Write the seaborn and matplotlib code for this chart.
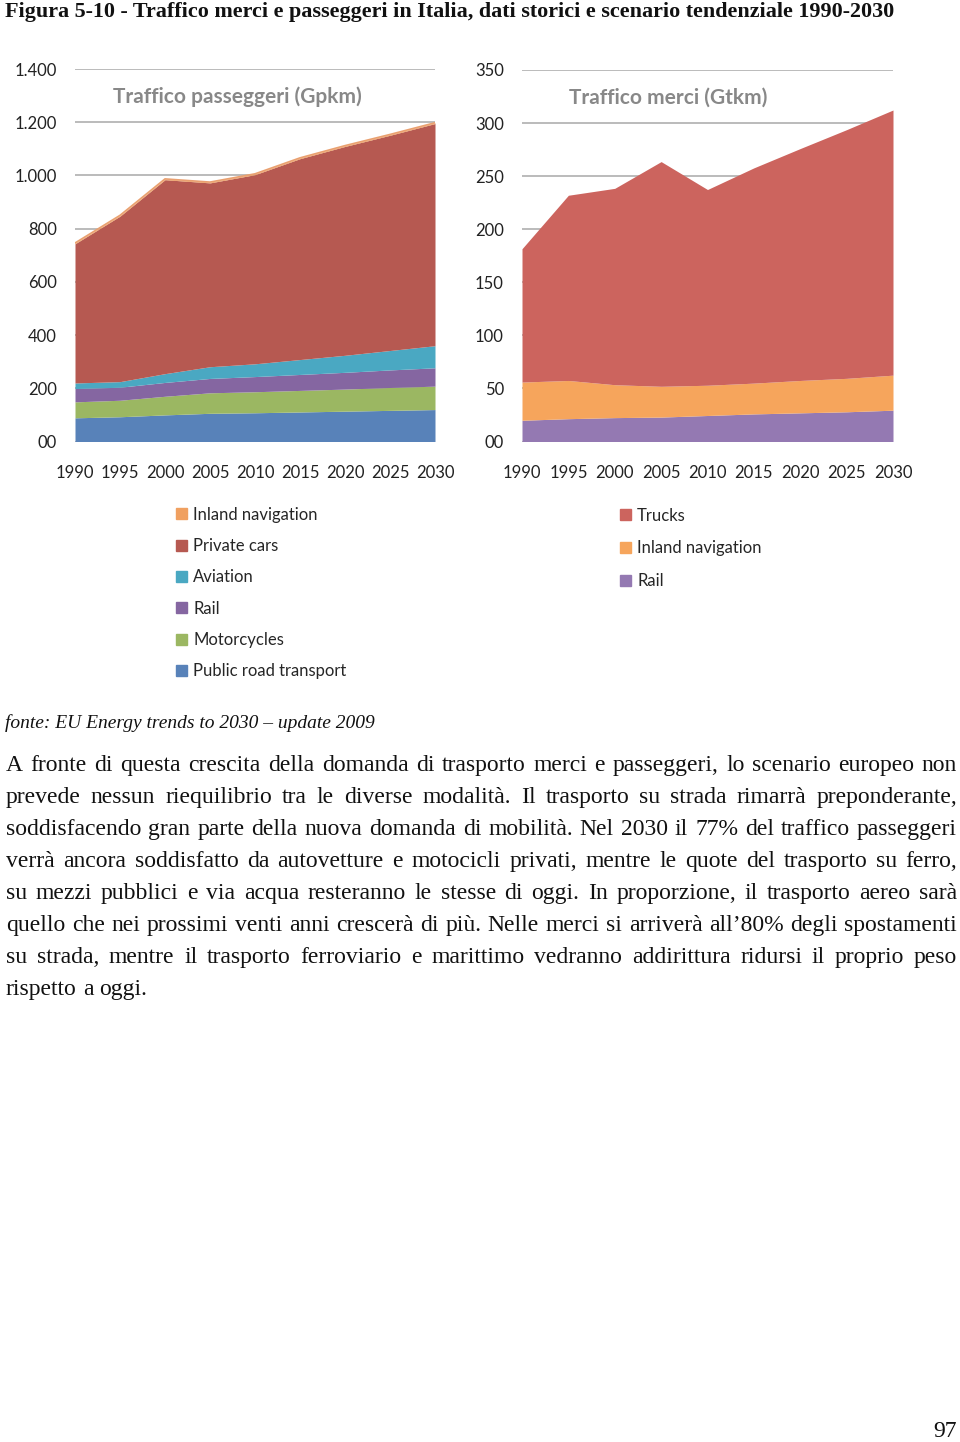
import numpy as np
import pandas as pd
import seaborn as sns
import matplotlib.pyplot as plt
from matplotlib.patches import Patch

# ---- data ----
years = [1990, 1995, 2000, 2005, 2010, 2015, 2020, 2025, 2030]

# passenger traffic (Gpkm), stacking order bottom -> top
pax_public_road = [89, 93, 100, 106, 108, 111, 114, 117, 120]
pax_motorcycles = [60, 62, 70, 77, 79, 81, 83, 86, 88]
pax_rail = [50, 49, 52, 54, 57, 60, 63, 66, 69]
pax_aviation = [21, 21, 33, 44, 48, 56, 64, 73, 83]
pax_private_cars = [523, 622, 729, 691, 711, 755, 785, 809, 835]
pax_inland_nav = [3, 3, 3, 3, 3, 3, 3, 3, 3]

# freight traffic (Gtkm), bottom -> top
frt_rail = [20, 21.5, 22.5, 23, 24.5, 26, 27, 28, 29.5]
frt_inland_nav = [36, 36, 31, 29, 28.5, 29, 30.5, 31.5, 33]
frt_trucks = [125.6, 174.5, 185, 211.7, 184.4, 202.8, 218.5, 234.3, 249.8]

pax_labels = ["Public road transport", "Motorcycles", "Rail", "Aviation",
              "Private cars", "Inland navigation"]
frt_labels = ["Rail", "Inland navigation", "Trucks"]

pax_yticks = [0, 200, 400, 600, 800, 1000, 1200, 1400]
pax_yticklabels = ["00", "200", "400", "600", "800", "1.000", "1.200", "1.400"]
frt_yticks = [0, 50, 100, 150, 200, 250, 300, 350]
frt_yticklabels = ["00", "50", "100", "150", "200", "250", "300", "350"]

title = "Figura 5-10 - Traffico merci e passeggeri in Italia, dati storici e scenario tendenziale 1990-2030"
source = "fonte: EU Energy trends to 2030 \u2013 update 2009"
body = [
    "A fronte di questa crescita della domanda di trasporto merci e passeggeri, lo scenario europeo non",
    "prevede nessun riequilibrio tra le diverse modalità. Il trasporto su strada rimarrà preponderante,",
    "soddisfacendo gran parte della nuova domanda di mobilità. Nel 2030 il 77% del traffico passeggeri",
    "verrà ancora soddisfatto da autovetture e motocicli privati, mentre le quote del trasporto su ferro,",
    "su mezzi pubblici e via acqua resteranno le stesse di oggi. In proporzione, il trasporto aereo sarà",
    "quello che nei prossimi venti anni crescerà di più. Nelle merci si arriverà all\u201980% degli spostamenti",
    "su strada, mentre il trasporto ferroviario e marittimo vedranno addirittura ridursi il proprio peso",
    "rispetto a oggi.",
]

pax = pd.DataFrame({
    "Public road transport": pax_public_road,
    "Motorcycles": pax_motorcycles,
    "Rail": pax_rail,
    "Aviation": pax_aviation,
    "Private cars": pax_private_cars,
    "Inland navigation": pax_inland_nav,
}, index=years)
frt = pd.DataFrame({
    "Rail": frt_rail,
    "Inland navigation": frt_inland_nav,
    "Trucks": frt_trucks,
}, index=years)

pax_colors = ["#5882B9", "#9BB762", "#8566A1", "#4AA8C2", "#B65951", "#F0A060"]
frt_colors = ["#9479B2", "#F6A55C", "#CC645E"]

sns.set_theme(style="white")
plt.rcParams["font.family"] = ["Lato", "DejaVu Sans"]

W, H = 960, 1442
fig = plt.figure(figsize=(W / 100, H / 100), dpi=100)


def px_axes(x0, y0, x1, y1):
    return fig.add_axes([x0 / W, 1 - y1 / H, (x1 - x0) / W, (y1 - y0) / H])


def style_axes(ax, yticks, yticklabels, ymax, heading, hx):
    ax.set_xlim(1990, 2030)
    ax.set_ylim(0, ymax)
    ax.set_yticks(yticks)
    ax.set_yticklabels(yticklabels)
    ax.set_xticks(years)
    ax.set_xticklabels([str(y) for y in years])
    ax.set_xlabel("")
    ax.set_ylabel("")
    ax.tick_params(axis="x", length=0, pad=17, labelsize=12, colors="#222222")
    ax.tick_params(axis="y", length=0, pad=13, labelsize=12, colors="#222222")
    ax.grid(axis="y", color="#a8a8a8", linewidth=1.1)
    ax.grid(axis="x", visible=False)
    ax.set_axisbelow(True)
    sns.despine(ax=ax, left=True, bottom=True)
    ax.text(hx, 0.925, heading, transform=ax.transAxes, ha="center", va="center",
            fontsize=15, fontweight="bold", color="#888888")


ax1 = px_axes(75, 69, 435, 441.5)
ax1.stackplot(pax.index, pax.T.values, colors=pax_colors, linewidth=0)
sns.lineplot(x=pax.index, y=pax.sum(axis=1).values, ax=ax1, color="#E9A070",
             linewidth=1.2, legend=False)
style_axes(ax1, pax_yticks, pax_yticklabels, 1400, "Traffico passeggeri (Gpkm)", 0.45)

ax2 = px_axes(522, 70, 893, 441.5)
ax2.stackplot(frt.index, frt.T.values, colors=frt_colors, linewidth=0)
style_axes(ax2, frt_yticks, frt_yticklabels, 350, "Traffico merci (Gtkm)", 0.395)

# legends (reverse of stacking order, as in the reference)
h1 = [Patch(color=c) for c in pax_colors][::-1]
fig.legend(h1, pax_labels[::-1], loc="upper left",
           bbox_to_anchor=(169 / W, 1 - 500 / H), frameon=False, fontsize=12,
           handlelength=0.65, handleheight=0.65, handletextpad=0.4,
           labelspacing=0.92, borderaxespad=0)
h2 = [Patch(color=c) for c in frt_colors][::-1]
fig.legend(h2, frt_labels[::-1], loc="upper left",
           bbox_to_anchor=(613 / W, 1 - 501 / H), frameon=False, fontsize=12,
           handlelength=0.65, handleheight=0.65, handletextpad=0.4,
           labelspacing=1.0, borderaxespad=0)

serif = ["Liberation Serif", "DejaVu Serif"]
fig.text(5 / W, 1 - 17 / H, title, family=serif, fontweight="bold", fontsize=15.9,
         ha="left", va="baseline", color="#111111")
fig.text(5 / W, 1 - 728 / H, source, family=serif, style="italic", fontsize=14,
         ha="left", va="baseline", color="#111111")

# justified paragraph
renderer = fig.canvas.get_renderer()
left, right = 6, 957
body_size = 17
for i, line in enumerate(body):
    y = 1 - (771 + 32 * i) / H
    words = line.split()
    items = [fig.text(0, y, w, family=serif, fontsize=body_size, ha="left",
                      va="baseline", color="#111111") for w in words]
    widths = [t.get_window_extent(renderer).width for t in items]
    if i == len(body) - 1:
        sp = fig.text(0, y, "a a", family=serif, fontsize=body_size)
        sa = fig.text(0, y, "aa", family=serif, fontsize=body_size)
        gap = sp.get_window_extent(renderer).width - sa.get_window_extent(renderer).width
        sp.remove()
        sa.remove()
    else:
        gap = (right - left - sum(widths)) / (len(words) - 1)
    x = left
    for t, w in zip(items, widths):
        t.set_x(x / W)
        x += w + gap

fig.text(957 / W, 1 - 1437 / H, "97", family=serif, fontsize=body_size, ha="right",
         va="baseline", color="#111111")

fig.savefig("out.png", dpi=100, facecolor="white")
